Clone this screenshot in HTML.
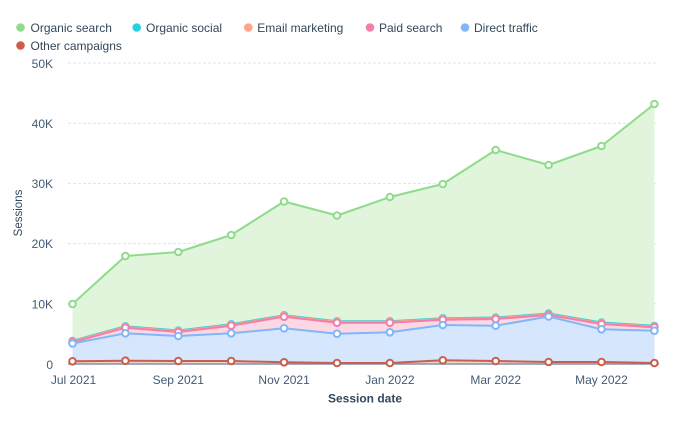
<!DOCTYPE html>
<html>
<head>
<meta charset="utf-8">
<style>
  html,body{margin:0;padding:0;background:#fff;}
  body{width:689px;height:424px;overflow:hidden;}
  svg{display:block;font-family:"Liberation Sans",sans-serif;}
</style>
</head>
<body>
<svg width="689" height="424" viewBox="0 0 689 424" xmlns="http://www.w3.org/2000/svg">
  <!-- Legend -->
  <g font-size="12" fill="#33475b">
    <circle cx="20.5" cy="27.5" r="4.3" fill="#8fdb8b"/>
    <text x="30.5" y="32">Organic search</text>
    <circle cx="136.7" cy="27.5" r="4.3" fill="#27d2dd"/>
    <text x="146" y="32">Organic social</text>
    <circle cx="248.3" cy="27.5" r="4.3" fill="#ffa38a"/>
    <text x="257.3" y="32">Email marketing</text>
    <circle cx="370" cy="27.5" r="4.3" fill="#f27fa9"/>
    <text x="379" y="32">Paid search</text>
    <circle cx="465" cy="27.5" r="4.3" fill="#80b7fb"/>
    <text x="474" y="32">Direct traffic</text>
    <circle cx="20.5" cy="45.5" r="4.3" fill="#c95f4a"/>
    <text x="30.5" y="50">Other campaigns</text>
  </g>

  <!-- Grid -->
  <g stroke="#dde3ec" stroke-width="1" stroke-dasharray="3,2">
    <line x1="68" y1="63" x2="658" y2="63"/>
    <line x1="68" y1="123.2" x2="658" y2="123.2"/>
    <line x1="68" y1="183.4" x2="658" y2="183.4"/>
    <line x1="68" y1="243.6" x2="658" y2="243.6"/>
    <line x1="68" y1="303.8" x2="658" y2="303.8"/>
  </g>

  <!-- Y tick labels -->
  <g font-size="12" fill="#425b76" text-anchor="end">
    <text x="53" y="68">50K</text>
    <text x="53" y="128">40K</text>
    <text x="53" y="188">30K</text>
    <text x="53" y="248">20K</text>
    <text x="53" y="308.5">10K</text>
    <text x="53" y="369">0</text>
  </g>

  <!-- Fills -->
  <polygon fill="#e0f5dc" points="72.5,304 125.4,256 178.3,252 231.2,235 284.1,201.5 337,215.5 389.9,197 442.8,184 495.7,150 548.6,165 601.5,146 654.4,104 654.4,364 72.5,364"/>
  <polygon fill="#c9f1f3" points="72.5,340.8 125.4,326.2 178.3,330.5 231.2,324.2 284.1,315.2 337,321.2 389.9,321.2 442.8,318.2 495.7,317.5 548.6,313.5 601.5,322.5 654.4,325.8 654.4,364 72.5,364"/>
  <polygon fill="#ffe2d9" points="72.5,341.5 125.4,326.9 178.3,331.2 231.2,324.9 284.1,315.9 337,321.9 389.9,321.9 442.8,318.9 495.7,318.2 548.6,314.2 601.5,323.2 654.4,326.5 654.4,364 72.5,364"/>
  <polygon fill="#fcd8e5" points="72.5,342.3 125.4,327.7 178.3,332 231.2,325.7 284.1,316.7 337,322.7 389.9,322.7 442.8,319.7 495.7,319 548.6,315 601.5,324 654.4,327.3 654.4,364 72.5,364"/>
  <polygon fill="#d5e6fd" points="72.5,343.5 125.4,333.3 178.3,336 231.2,333.3 284.1,328.3 337,333.7 389.9,332.3 442.8,325 495.7,325.7 548.6,316.5 601.5,329.3 654.4,330.7 654.4,364 72.5,364"/>
  <polygon fill="#eed4cf" points="72.5,361.3 125.4,360.7 178.3,361 231.2,361 284.1,362.3 337,363 389.9,363 442.8,360.3 495.7,361 548.6,362 601.5,362 654.4,363 654.4,364 72.5,364"/>

  <!-- Baseline -->
  <line x1="68" y1="364" x2="659" y2="364" stroke="#8093aa" stroke-width="1.5"/>

  <!-- Lines -->
  <g fill="none" stroke-width="2" stroke-linejoin="round">
    <polyline stroke="#8fdb8b" points="72.5,304 125.4,256 178.3,252 231.2,235 284.1,201.5 337,215.5 389.9,197 442.8,184 495.7,150 548.6,165 601.5,146 654.4,104"/>
    <polyline stroke="#27d2dd" points="72.5,340.8 125.4,326.2 178.3,330.5 231.2,324.2 284.1,315.2 337,321.2 389.9,321.2 442.8,318.2 495.7,317.5 548.6,313.5 601.5,322.5 654.4,325.8"/>
    <polyline stroke="#ffa38a" points="72.5,341.5 125.4,326.9 178.3,331.2 231.2,324.9 284.1,315.9 337,321.9 389.9,321.9 442.8,318.9 495.7,318.2 548.6,314.2 601.5,323.2 654.4,326.5"/>
    <polyline stroke="#f27fa9" points="72.5,342.3 125.4,327.7 178.3,332 231.2,325.7 284.1,316.7 337,322.7 389.9,322.7 442.8,319.7 495.7,319 548.6,315 601.5,324 654.4,327.3"/>
    <polyline stroke="#80b7fb" points="72.5,343.5 125.4,333.3 178.3,336 231.2,333.3 284.1,328.3 337,333.7 389.9,332.3 442.8,325 495.7,325.7 548.6,316.5 601.5,329.3 654.4,330.7"/>
    <polyline stroke="#c95f4a" points="72.5,361.3 125.4,360.7 178.3,361 231.2,361 284.1,362.3 337,363 389.9,363 442.8,360.3 495.7,361 548.6,362 601.5,362 654.4,363"/>
  </g>

  <!-- Markers -->
  <g fill="#fff" stroke-width="2">
    <g stroke="#8fdb8b">
      <circle cx="72.5" cy="304" r="3.3"/><circle cx="125.4" cy="256" r="3.3"/><circle cx="178.3" cy="252" r="3.3"/><circle cx="231.2" cy="235" r="3.3"/><circle cx="284.1" cy="201.5" r="3.3"/><circle cx="337" cy="215.5" r="3.3"/><circle cx="389.9" cy="197" r="3.3"/><circle cx="442.8" cy="184" r="3.3"/><circle cx="495.7" cy="150" r="3.3"/><circle cx="548.6" cy="165" r="3.3"/><circle cx="601.5" cy="146" r="3.3"/><circle cx="654.4" cy="104" r="3.3"/>
    </g>
    <g stroke="#27d2dd">
      <circle cx="72.5" cy="340.8" r="3.1"/><circle cx="125.4" cy="326.2" r="3.1"/><circle cx="178.3" cy="330.5" r="3.1"/><circle cx="231.2" cy="324.2" r="3.1"/><circle cx="284.1" cy="315.2" r="3.1"/><circle cx="337" cy="321.2" r="3.1"/><circle cx="389.9" cy="321.2" r="3.1"/><circle cx="442.8" cy="318.2" r="3.1"/><circle cx="495.7" cy="317.5" r="3.1"/><circle cx="548.6" cy="313.5" r="3.1"/><circle cx="601.5" cy="322.5" r="3.1"/><circle cx="654.4" cy="325.8" r="3.1"/>
    </g>
    <g stroke="#ffa38a">
      <circle cx="72.5" cy="341.5" r="3.1"/><circle cx="125.4" cy="326.9" r="3.1"/><circle cx="178.3" cy="331.2" r="3.1"/><circle cx="231.2" cy="324.9" r="3.1"/><circle cx="284.1" cy="315.9" r="3.1"/><circle cx="337" cy="321.9" r="3.1"/><circle cx="389.9" cy="321.9" r="3.1"/><circle cx="442.8" cy="318.9" r="3.1"/><circle cx="495.7" cy="318.2" r="3.1"/><circle cx="548.6" cy="314.2" r="3.1"/><circle cx="601.5" cy="323.2" r="3.1"/><circle cx="654.4" cy="326.5" r="3.1"/>
    </g>
    <g stroke="#f27fa9">
      <circle cx="72.5" cy="342.3" r="3.3"/><circle cx="125.4" cy="327.7" r="3.3"/><circle cx="178.3" cy="332" r="3.3"/><circle cx="231.2" cy="325.7" r="3.3"/><circle cx="284.1" cy="316.7" r="3.3"/><circle cx="337" cy="322.7" r="3.3"/><circle cx="389.9" cy="322.7" r="3.3"/><circle cx="442.8" cy="319.7" r="3.3"/><circle cx="495.7" cy="319" r="3.3"/><circle cx="548.6" cy="315" r="3.3"/><circle cx="601.5" cy="324" r="3.3"/><circle cx="654.4" cy="327.3" r="3.3"/>
    </g>
    <g stroke="#80b7fb">
      <circle cx="72.5" cy="343.5" r="3.3"/><circle cx="125.4" cy="333.3" r="3.3"/><circle cx="178.3" cy="336" r="3.3"/><circle cx="231.2" cy="333.3" r="3.3"/><circle cx="284.1" cy="328.3" r="3.3"/><circle cx="337" cy="333.7" r="3.3"/><circle cx="389.9" cy="332.3" r="3.3"/><circle cx="442.8" cy="325" r="3.3"/><circle cx="495.7" cy="325.7" r="3.3"/><circle cx="548.6" cy="316.5" r="3.3"/><circle cx="601.5" cy="329.3" r="3.3"/><circle cx="654.4" cy="330.7" r="3.3"/>
    </g>
    <g stroke="#c95f4a">
      <circle cx="72.5" cy="361.3" r="3.3"/><circle cx="125.4" cy="360.7" r="3.3"/><circle cx="178.3" cy="361" r="3.3"/><circle cx="231.2" cy="361" r="3.3"/><circle cx="284.1" cy="362.3" r="3.3"/><circle cx="337" cy="363" r="3.3"/><circle cx="389.9" cy="363" r="3.3"/><circle cx="442.8" cy="360.3" r="3.3"/><circle cx="495.7" cy="361" r="3.3"/><circle cx="548.6" cy="362" r="3.3"/><circle cx="601.5" cy="362" r="3.3"/><circle cx="654.4" cy="363" r="3.3"/>
    </g>
  </g>

  <!-- X tick labels -->
  <g font-size="12" fill="#425b76" text-anchor="middle">
    <text x="73.5" y="384">Jul 2021</text>
    <text x="178.3" y="384">Sep 2021</text>
    <text x="284.1" y="384">Nov 2021</text>
    <text x="389.9" y="384">Jan 2022</text>
    <text x="495.7" y="384">Mar 2022</text>
    <text x="601.5" y="384">May 2022</text>
  </g>

  <!-- Axis titles -->
  <text x="365" y="402.5" font-size="12" font-weight="bold" fill="#33475b" text-anchor="middle">Session date</text>
  <text transform="translate(22,213) rotate(-90)" font-size="11.5" fill="#33475b" text-anchor="middle">Sessions</text>
</svg>
</body>
</html>
